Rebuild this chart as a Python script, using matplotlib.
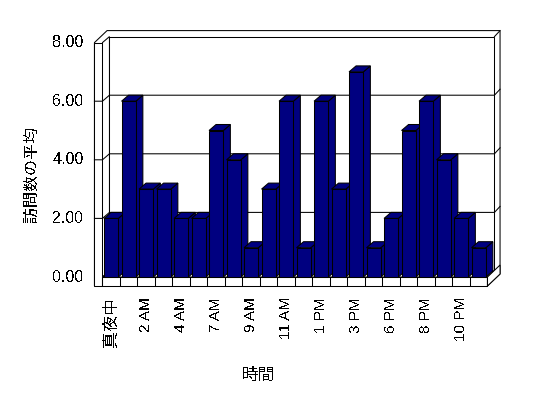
import matplotlib.pyplot as plt
from matplotlib.patches import Polygon
import numpy as np

plt.rcParams['font.family'] = ['Liberation Sans', 'Noto Sans CJK JP', 'DejaVu Sans']
plt.rcParams['text.antialiased'] = False

# data
hours = ['真夜中', '1 AM', '2 AM', '3 AM', '4 AM', '6 AM', '7 AM', '8 AM', '9 AM', '10 AM', '11 AM',
         '正午', '1 PM', '2 PM', '3 PM', '5 PM', '6 PM', '7 PM', '8 PM', '9 PM', '10 PM', '11 PM']
visits = [2, 6, 3, 3, 2, 2, 5, 4, 1, 3, 6, 1, 6, 3, 7, 1, 2, 5, 6, 4, 2, 1]
yticks = [0, 2, 4, 6, 8]
xtitle = '時間'
ytitle = '訪問数の平均'

NAVY = '#000080'
LW = 0.75

# pixel geometry of the pseudo-3D box
W, H = 548, 398
UX, UY = 17.5, 29.3     # px per category / per value unit
X0, Y0 = 111.2, 277     # px of category 0 / value 0

fig = plt.figure(figsize=(W / 100, H / 100), dpi=100)
ax = fig.add_axes([0, 0, 1, 1])
ax.set_xlim(-X0 / UX, (W - X0) / UX)
ax.set_ylim((Y0 - H) / UY, Y0 / UY)
ax.axis('off')

n = len(visits)
left, right = -0.5, n - 0.5
top = yticks[-1]
d1 = (7 / UX, 6 / UY)       # bar depth / back wall front
d2 = (12.6 / UX, 12 / UY)   # back wall rear
tw = 8 / UX                 # left wall thickness
fh = 9 / UY                 # floor thickness
bw = 14.3 / UX


def quad(pts, z, fc='white'):
    ax.add_patch(Polygon(pts, closed=True, fc=fc, ec='black', lw=LW, zorder=z, joinstyle='miter'))


# walls
quad([(left - tw, -fh), (left - tw, top), (left - tw + d2[0], top + d2[1]),
      (right + d2[0], top + d2[1]), (right + d2[0], -fh + d2[1]), (right, -fh)], 1)
quad([(left + d1[0], d1[1]), (left + d1[0], top + d1[1]),
      (right + d1[0], top + d1[1]), (right + d1[0], d1[1])], 1.1)
ax.plot([right + d1[0], right + d2[0]], [top + d1[1], top + d2[1]], color='black', lw=LW, zorder=1.1)
quad([(left, 0), (left, top), (left + d1[0], top + d1[1]), (left + d1[0], d1[1])], 1.2)
quad([(left - tw, -fh), (left - tw, top), (left, top), (left, -fh)], 1.2)

# gridlines wrapping round the walls
for v in yticks[1:-1]:
    ax.plot([left - tw, left, left + d1[0], right + d1[0], right + d2[0]],
            [v, v, v + d1[1], v + d1[1], v + d2[1]], color='black', lw=LW, zorder=1.3)

# floor
quad([(left, 0), (right, 0), (right + d1[0], d1[1]), (left + d1[0], d1[1])], 1.4)
quad([(left, -fh), (left, 0), (right, 0), (right, -fh)], 1.4)
quad([(right, -fh), (right, 0), (right + d2[0], d2[1]), (right + d2[0], -fh + d2[1])], 1.4)
ax.vlines(np.arange(n + 1) - 0.5, -fh, 0, color='black', lw=LW, zorder=1.5)

# bars
x = np.arange(n)
bars = ax.bar(x, visits, width=bw, color=NAVY, edgecolor='black', lw=LW)
for i, (rect, v) in enumerate(zip(bars, visits)):
    z = 3 + i * 0.01
    xl, xr = i - bw / 2, i + bw / 2
    quad([(xr, 0), (xr + d1[0], d1[1]), (xr + d1[0], v + d1[1]), (xr, v)], z, NAVY)
    quad([(xl, v), (xr, v), (xr + d1[0], v + d1[1]), (xl + d1[0], v + d1[1])], z, NAVY)
    rect.set_zorder(z + 0.005)

# tick labels
for v in yticks:
    ax.text(left - tw - 11 / UX, v, f'{v:.2f}', ha='right', va='center', fontsize=11.5)
for i in range(0, n, 2):
    fs = 12 if i == 0 else 11
    ax.text(i, -fh - 11 / UY, hours[i], rotation=90, ha='center', va='top', fontsize=fs)

fig.text(258 / W, 1 - 375 / H, xtitle, ha='center', va='center', fontsize=12)
fig.text(31.5 / W, 1 - 174 / H, ytitle, rotation=90, ha='center', va='center', fontsize=11.5)

fig.savefig('out.png', dpi=100)
